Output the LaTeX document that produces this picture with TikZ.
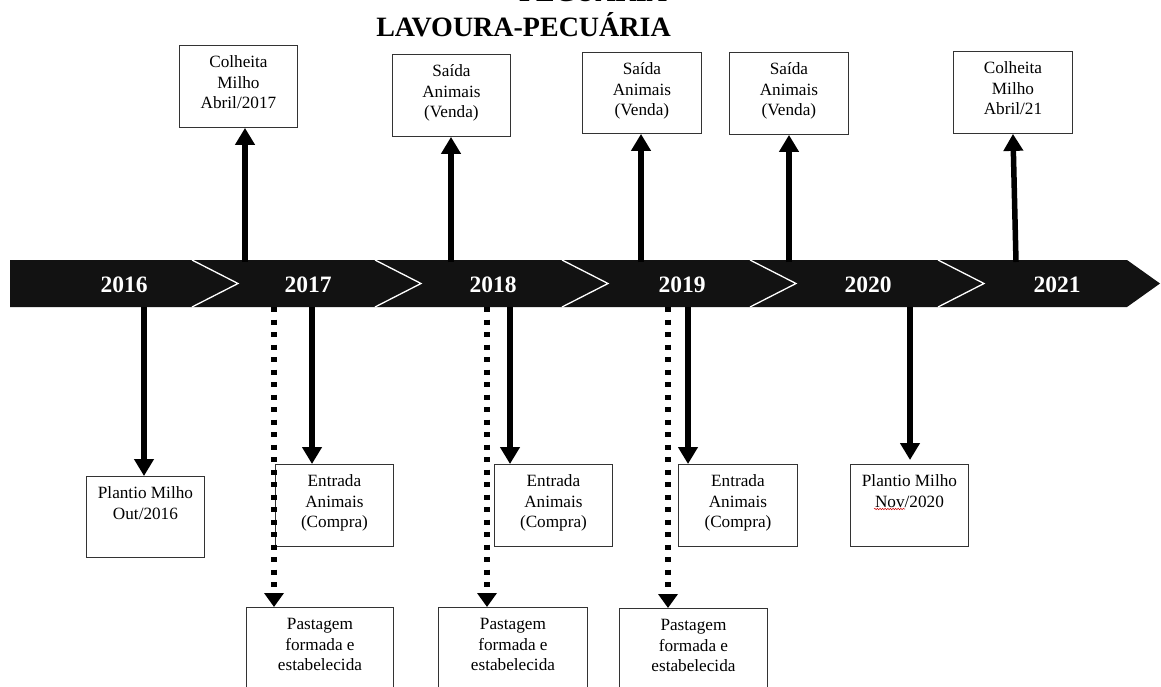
\documentclass[tikz,border=0pt]{standalone}
\usepackage{fontspec}
\setmainfont{Liberation Serif}
\usetikzlibrary{arrows.meta,calc,decorations.pathmorphing}
% text block of an event box: fixed width and height, text starting at the top
\newcommand\evtext[3]{\parbox[c][#2pt][t]{#1pt}{\centering\rule{0pt}{22.5pt}#3}}
\tikzset{
  evbox/.style={draw=black!80, line width=0.9pt, inner sep=0pt, anchor=north west,
                fill=white, font=\fontsize{17.2}{20.3}\selectfont},
  yearlbl/.style={text=white, anchor=base, font=\bfseries\fontsize{23.5}{26}\selectfont},
  titlelbl/.style={anchor=base, inner sep=0pt, font=\bfseries\fontsize{28}{32}\selectfont},
  solidarr/.style={line width=5.5pt, -{Triangle[width=19pt,length=17pt]}},
  dotarr/.style={line width=5.5pt, dash pattern=on 5pt off 7.5pt,
                 -{Triangle[width=19pt,length=14pt]}},
  divider/.style={draw=white, line width=1.3pt},
  bannerfill/.style={fill=black!93},
}
\begin{document}
\begin{tikzpicture}[x=1pt,y=-1pt]
\useasboundingbox (0,0) rectangle (1161,686);
\clip (0,0) rectangle (1161,686);

% title
\node[titlelbl] (ttl0) at (593,1.5) {PECUÁRIA};
\node[titlelbl] (ttl) at (523.5,36) {LAVOURA-PECUÁRIA};

% timeline banner
\path[bannerfill] (10,260) -- (1127,260) -- (1160,283.5) -- (1127,307) -- (10,307) -- cycle;
\foreach \x in {192,375,562,750,938}
  \draw[divider] (\x,260) -- (\x+46,283.5) -- (\x,307);

\node[yearlbl] (y16) at (124,292) {2016};
\node[yearlbl] (y17) at (308,292) {2017};
\node[yearlbl] (y18) at (493,292) {2018};
\node[yearlbl] (y19) at (682,292) {2019};
\node[yearlbl] (y20) at (868,292) {2020};
\node[yearlbl] (y21) at (1057,292) {2021};

% events above the timeline
\node[evbox] (c17) at (179,45) {\evtext{118}{82}{Colheita\\Milho\\Abril/2017}};
\node[evbox] (s18) at (392,54) {\evtext{118}{82}{Saída\\Animais\\(Venda)}};
\node[evbox] (s19) at (582,52) {\evtext{119}{81}{Saída\\Animais\\(Venda)}};
\node[evbox] (s20) at (729,52) {\evtext{119}{82}{Saída\\Animais\\(Venda)}};
\node[evbox] (c21) at (953,51) {\evtext{119}{82}{Colheita\\Milho\\Abril/21}};

% events below the timeline
\node[evbox] (p16) at (86,476) {\evtext{118}{81}{Plantio Milho\\Out/2016}};
\node[evbox] (e17) at (275,464) {\evtext{118}{82}{Entrada\\Animais\\(Compra)}};
\node[evbox] (e18) at (494,464) {\evtext{118}{82}{Entrada\\Animais\\(Compra)}};
\node[evbox] (e19) at (678,464) {\evtext{119}{82}{Entrada\\Animais\\(Compra)}};
\node[evbox] (p20) at (850,464) {\evtext{118}{82}{Plantio Milho\\Nov/2020}};
\node[evbox] (g17) at (246,607) {\evtext{147}{100}{Pastagem\\formada e\\estabelecida}};
\node[evbox] (g18) at (438,607) {\evtext{149}{100}{Pastagem\\formada e\\estabelecida}};
\node[evbox] (g19) at (619,608) {\evtext{148}{100}{Pastagem\\formada e\\estabelecida}};

% spell-check underline under "Nov"
\draw[red!80!black, line width=0.5pt, decorate,
      decoration={snake, amplitude=0.7pt, segment length=2.6pt}] (874,509) -- (905,509);

% start points on the banner
\coordinate (a16) at (144,307);
\coordinate (a17u) at (245,262);
\coordinate (a17d) at (312,307);
\coordinate (d17) at (274,307);
\coordinate (a18u) at (451,262);
\coordinate (a18d) at (510,307);
\coordinate (d18) at (487,307);
\coordinate (a19u) at (641,262);
\coordinate (a19d) at (688,307);
\coordinate (d19) at (668,307);
\coordinate (a20u) at (789,262);
\coordinate (a20d) at (910,307);
\coordinate (a21u) at (1016,262);

% arrows up
\draw[solidarr] (a17u) -- (a17u |- c17.south);
\draw[solidarr] (a18u) -- (a18u |- s18.south);
\draw[solidarr] (a19u) -- (a19u |- s19.south);
\draw[solidarr] (a20u) -- (a20u |- s20.south);
\draw[solidarr] (a21u) -- (c21.south);

% arrows down
\draw[solidarr] (a16) -- (a16 |- p16.north);
\draw[solidarr] (a17d) -- (a17d |- e17.north);
\draw[solidarr] (a18d) -- (a18d |- e18.north);
\draw[solidarr] (a19d) -- (a19d |- e19.north);
\draw[solidarr] (a20d) -- ($(a20d |- p20.north)+(0,-4)$);

% dotted arrows to the pasture boxes
\draw[dotarr] (d17) -- (d17 |- g17.north);
\draw[dotarr] (d18) -- (d18 |- g18.north);
\draw[dotarr] (d19) -- (d19 |- g19.north);
\end{tikzpicture}
\end{document}
